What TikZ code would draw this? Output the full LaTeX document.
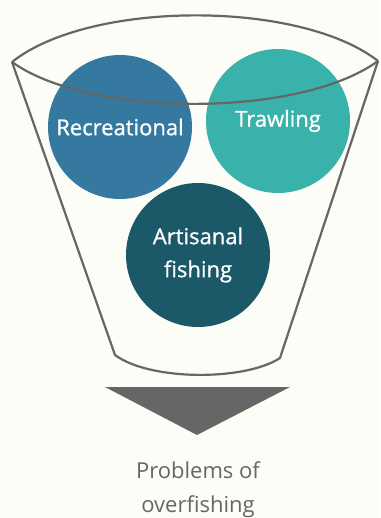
\documentclass[tikz,border=0pt]{standalone}
\usepackage{fontspec}
\setmainfont{Open Sans}
\newfontfamily\semibf{Open Sans}[BoldFont={Open Sans},BoldFeatures={FakeBold=0.9}]
\usetikzlibrary{positioning}
\definecolor{bgc}{RGB}{253,253,248}
\definecolor{linec}{RGB}{102,102,102}
\definecolor{recc}{RGB}{53,121,161}
\definecolor{trawlc}{RGB}{56,178,170}
\definecolor{artc}{RGB}{27,88,104}
\tikzset{
  catch/.style={circle,minimum size=144pt,inner sep=0pt,text=white,align=center,
    font=\semibf\bfseries\fontsize{22}{33}\selectfont},
  rim/.style={draw=linec,line width=2.2pt,line join=round}
}
\begin{document}
\begin{tikzpicture}[x=1pt,y=-1pt]
\fill[bgc] (0,0) rectangle (380,518);
\useasboundingbox (0,0) rectangle (380,518);
% the three kinds of fishing
\node[catch,fill=recc]   (rec)   at (120,127) {Recreational};
\node[catch,fill=trawlc] (trawl) at (278,121) {Trawling};
\node[catch,fill=artc]   (art)   at (198,255) {Artisanal\\fishing};
% the bucket: rim, sides and bottom
\coordinate (tl) at (12,62);
\coordinate (tr) at (378,61);
\coordinate (bl) at (115,355);
\coordinate (br) at (280,358);
\draw[rim] (tl) .. controls (90,0) and (300,0) .. (tr);
\draw[rim] (tl) .. controls (90,118) and (300,118) .. (tr);
\draw[rim] (tl) -- (bl) .. controls (150,381) and (245,381) .. (br) -- (tr);
% arrow down to the result
\coordinate (al) at (105,387);
\coordinate (ar) at (290,387);
\coordinate (ap) at (197,435);
\fill[linec] (al) -- (ar) -- (ap) -- cycle;
\node[text=linec,align=center,font=\fontsize{22}{34}\selectfont] (res) at (198,490)
  {Problems of\\overfishing};
\end{tikzpicture}
\end{document}
